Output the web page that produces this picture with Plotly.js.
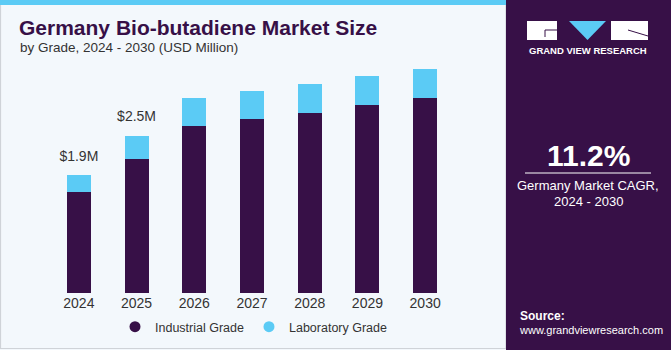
<!DOCTYPE html>
<html><head><meta charset="utf-8">
<script src="https://cdn.plot.ly/plotly-3.0.1.min.js"></script>
<style>html,body{margin:0;padding:0;background:#f3f8fc;}#chart{width:671px;height:350px;}</style>
</head><body><div id="chart"></div>
<script>
const years = ['2024','2025','2026','2027','2028','2029','2030'];
const industrial = [1.63, 2.16, 2.69, 2.80, 2.90, 3.03, 3.14];
const laboratory = [0.27, 0.37, 0.45, 0.45, 0.47, 0.46, 0.47];
const totalLabels = ['$1.9M', '$2.5M'];
const cagrText = '11.2%';

const W = 671, H = 350;
const px = x => x / W;
const py = y => 1 - y / H;

const purple = '#371047', cyan = '#5bcbf5';

const traces = [
  {type:'bar', x: years, y: industrial, name:'Industrial Grade', marker:{color:purple}, showlegend:false, hoverinfo:'skip'},
  {type:'bar', x: years, y: laboratory, name:'Laboratory Grade', marker:{color:cyan}, showlegend:false, hoverinfo:'skip'},
  {type:'scatter', mode:'markers', x:[years[0]], y:[-10], name:'Industrial Grade', marker:{color:purple, size:11, symbol:'circle'}, showlegend:true, hoverinfo:'skip'},
  {type:'scatter', mode:'markers', x:[years[0]], y:[-10], name:'Laboratory Grade', marker:{color:cyan, size:11, symbol:'circle'}, showlegend:true, hoverinfo:'skip'},
  {type:'scatter', mode:'markers+text', x: years.slice(0, totalLabels.length), y: totalLabels.map((t,i) => industrial[i] + laboratory[i]), text: totalLabels, textposition:'top center', marker:{size:16, opacity:0}, textfont:{family:'Liberation Sans, Arial', size:14, color:'#333333'}, showlegend:false, hoverinfo:'skip', cliponaxis:false}
];

const annotations = [
  {x:px(17), y:py(27), xref:'paper', yref:'paper', xanchor:'left', yanchor:'middle', showarrow:false, text:'<b>Germany Bio-butadiene Market Size</b>', font:{family:'Liberation Sans, Arial', size:21, color:purple}},
  {x:px(18), y:py(48), xref:'paper', yref:'paper', xanchor:'left', yanchor:'middle', showarrow:false, text:'by Grade, 2024 - 2030 (USD Million)', font:{family:'Liberation Sans, Arial', size:13.5, color:'#333333'}},
  {x:px(588), y:py(51), xref:'paper', yref:'paper', xanchor:'center', yanchor:'middle', showarrow:false, text:'<b>GRAND VIEW RESEARCH</b>', font:{family:'Liberation Sans, Arial', size:9.5, color:'#ffffff'}},
  {x:px(588), y:py(155), xref:'paper', yref:'paper', xanchor:'center', yanchor:'middle', showarrow:false, text:'<b>'+cagrText+'</b>', font:{family:'Liberation Sans, Arial', size:30, color:'#ffffff'}},
  {x:px(588), y:py(185), xref:'paper', yref:'paper', xanchor:'center', yanchor:'middle', showarrow:false, text:'Germany Market CAGR,', font:{family:'Liberation Sans, Arial', size:13, color:'#ffffff'}},
  {x:px(588), y:py(201), xref:'paper', yref:'paper', xanchor:'center', yanchor:'middle', showarrow:false, text:'2024 - 2030', font:{family:'Liberation Sans, Arial', size:13, color:'#ffffff'}},
  {x:px(518), y:py(316), xref:'paper', yref:'paper', xanchor:'left', yanchor:'middle', showarrow:false, text:'<b>Source:</b>', font:{family:'Liberation Sans, Arial', size:12, color:'#ffffff'}},
  {x:px(517), y:py(330), xref:'paper', yref:'paper', xanchor:'left', yanchor:'middle', showarrow:false, text:'www.grandviewresearch.com', font:{family:'Liberation Sans, Arial', size:11, color:'#ffffff'}}
];

let grid = '';
for (let i = 0; i <= 12; i++) { grid += `<line x1="${i*14}" y1="0" x2="${i*14 - 20 + i*3}" y2="66" stroke="rgba(255,255,255,0.18)" stroke-width="0.7"/>`; }
for (let j = 0; j <= 10; j++) { const yy = j*j*0.65; grid += `<line x1="0" y1="${yy}" x2="166" y2="${yy}" stroke="rgba(255,255,255,0.18)" stroke-width="0.7"/>`; }
const svg = `<svg xmlns="http://www.w3.org/2000/svg" width="165" height="66" viewBox="0 0 165 66"><defs><linearGradient id="g" x1="0" y1="0" x2="0" y2="1"><stop offset="0" stop-color="#4a3a7c"/><stop offset="0.5" stop-color="#4b6fb0"/><stop offset="1" stop-color="#5cc0ee"/></linearGradient></defs><rect width="165" height="66" fill="url(#g)"/>${grid}</svg>`;
const imgSrc = 'data:image/svg+xml;charset=utf-8,' + encodeURIComponent(svg);

const shapes = [
  {type:'rect', xref:'paper', yref:'paper', x0:px(0.5), x1:px(506), y0:py(348.5), y1:py(0), line:{color:'#cfd3d8', width:1.2}, fillcolor:'rgba(0,0,0,0)', layer:'below'},
  {type:'rect', xref:'paper', yref:'paper', x0:0, x1:px(506), y0:py(5), y1:1, line:{width:0}, fillcolor:cyan, layer:'below'},
  {type:'rect', xref:'paper', yref:'paper', x0:px(506), x1:1, y0:py(350), y1:1, line:{width:0}, fillcolor:purple, layer:'below'},
  {type:'rect', xref:'paper', yref:'paper', x0:px(527), x1:px(557), y0:py(40), y1:py(21), line:{width:0}, fillcolor:'#ffffff'},
  {type:'path', xref:'paper', yref:'paper', path:`M ${px(545)} ${py(30)} L ${px(557)} ${py(30)} M ${px(545)} ${py(30)} L ${px(545)} ${py(37)}`, line:{color:purple, width:1}},
  {type:'path', xref:'paper', yref:'paper', path:`M ${px(569)} ${py(21)} L ${px(606)} ${py(21)} L ${px(587.5)} ${py(40)} Z`, line:{width:0}, fillcolor:cyan},
  {type:'rect', xref:'paper', yref:'paper', x0:px(611), x1:px(648), y0:py(40), y1:py(21), line:{width:0}, fillcolor:'#ffffff'},
  {type:'path', xref:'paper', yref:'paper', path:`M ${px(628)} ${py(30)} L ${px(648)} ${py(36)}`, line:{color:purple, width:1}},
  {type:'line', xref:'paper', yref:'paper', x0:px(525), x1:px(651), y0:py(173), y1:py(173), line:{color:'#ffffff', width:1}}
];

const layout = {
  width: W, height: H,
  margin:{l:0, r:0, t:0, b:0},
  paper_bgcolor:'#f3f8fc', plot_bgcolor:'rgba(0,0,0,0)',
  barmode:'stack', bargap:0.584,
  showlegend:true,
  legend:{orientation:'h', traceorder:'normal', x:px(254), xanchor:'center', y:py(327), yanchor:'middle', font:{family:'Liberation Sans, Arial', size:12.5, color:'#333333'}, bgcolor:'rgba(0,0,0,0)', itemwidth:20},
  xaxis:{domain:[px(50), px(454)], type:'category', categoryorder:'array', categoryarray:years, range:[-0.5, 6.5], showgrid:false, zeroline:false, showline:false, ticks:'', tickfont:{family:'Liberation Sans, Arial', size:14, color:'#333333'}, fixedrange:true},
  yaxis:{domain:[py(293), py(60)], range:[0, 233/62.1], visible:false, showgrid:false, zeroline:false, fixedrange:true},
  annotations: annotations,
  shapes: shapes,
  images:[{source: imgSrc, xref:'paper', yref:'paper', x:px(506), y:py(284), sizex:px(165), sizey:66/H, xanchor:'left', yanchor:'top', sizing:'stretch', layer:'below'}]
};

Plotly.newPlot('chart', traces, layout, {displayModeBar:false, staticPlot:true});
</script></body></html>
